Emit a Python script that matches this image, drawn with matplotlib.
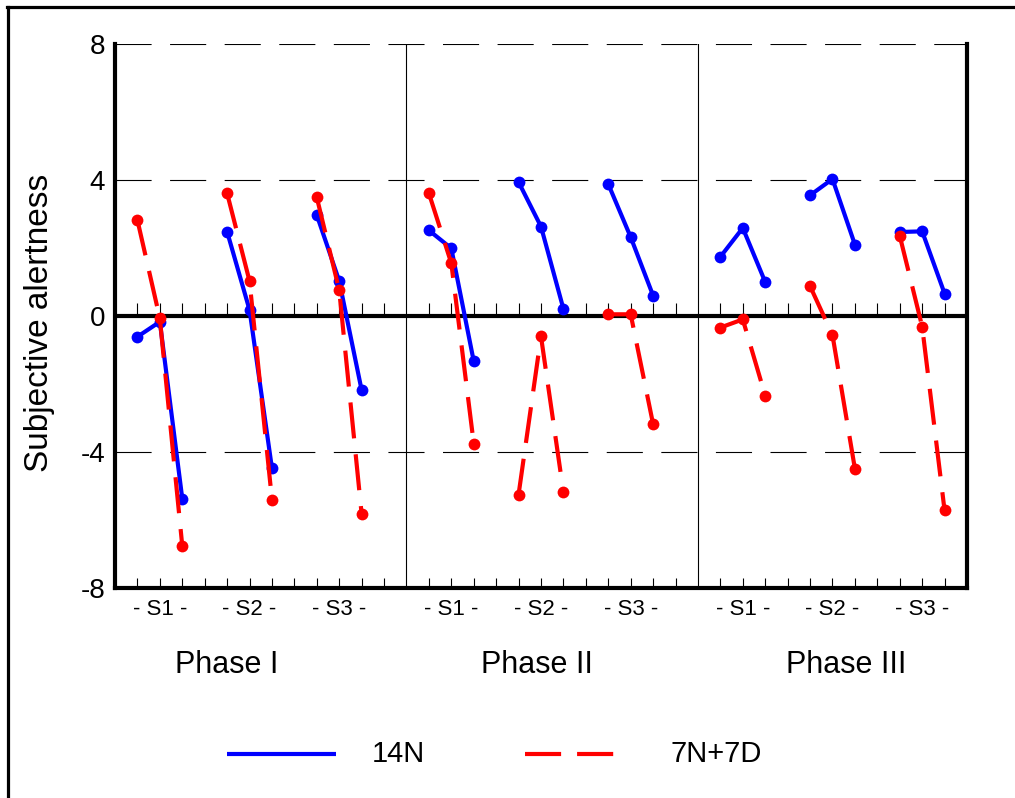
import matplotlib
matplotlib.use("Agg")
import matplotlib.pyplot as plt
from matplotlib.lines import Line2D

plt.rcParams['font.family'] = ['Liberation Sans', 'DejaVu Sans']
plt.rcParams['lines.scale_dashes'] = False

# Subjective alertness, three measurements per session, sessions S1-S3 in each phase
phases = ['Phase I', 'Phase II', 'Phase III']
sessions = ['S1', 'S2', 'S3']

n14_phase1 = [-0.61, -0.17, -5.37, 2.48, 0.18, -4.48, 2.97, 1.03, -2.18]
n14_phase2 = [2.52, 1.99, -1.33, 3.94, 2.63, 0.21, 3.88, 2.32, 0.60]
n14_phase3 = [1.74, 2.59, 1.00, 3.55, 4.03, 2.10, 2.47, 2.49, 0.66]

n7d7_phase1 = [2.82, -0.07, -6.76, 3.61, 1.03, -5.40, 3.49, 0.76, -5.82]
n7d7_phase2 = [3.61, 1.55, -3.75, -5.25, -0.60, -5.18, 0.05, 0.05, -3.18]
n7d7_phase3 = [-0.34, -0.10, -2.34, 0.88, -0.56, -4.49, 2.36, -0.31, -5.72]

n14 = [n14_phase1, n14_phase2, n14_phase3]
n7d7 = [n7d7_phase1, n7d7_phase2, n7d7_phase3]

yticks = [-8, -4, 0, 4, 8]

BLUE = '#0000FF'
RED = '#FF0000'
red_dash = (26, 11.5)

fig = plt.figure(figsize=(10.15, 7.98), dpi=100)
ax = fig.add_axes([115 / 1015, 1 - 588 / 798, 852 / 1015, 544 / 798])

ax.set_xlim(0, 38)
ax.set_ylim(-8, 8)

# dashed reference lines and the zero line
for y in [4, -4, 8]:
    ax.axhline(y, color='black', lw=0.8, dashes=(26, 13.3), zorder=1)
ax.axhline(0, color='black', lw=3, zorder=2)
for x in [13, 26]:
    ax.axvline(x, color='black', lw=0.8, zorder=1)

# small ticks standing on the zero line
tick_x = [x for x in range(1, 38) if x not in (13, 26)]
ax.vlines(tick_x, 0, 0.38, color='black', lw=0.8, zorder=2)

for p in range(3):
    offset = 13 * p
    for s in range(3):
        xs = [offset + 4 * s + 1 + k for k in range(3)]
        ax.plot(xs, n14[p][3 * s:3 * s + 3], color=BLUE, lw=3, marker='o',
                ms=8.5, mec='none', zorder=3, solid_capstyle='butt')
        ax.plot(xs, n7d7[p][3 * s:3 * s + 3], color=RED, lw=3, marker='o',
                ms=8.5, mec='none', dashes=red_dash, zorder=4,
                dash_capstyle='butt')

# axes frame
for side in ['left', 'right', 'bottom']:
    ax.spines[side].set_linewidth(3)
ax.spines['top'].set_visible(False)

ax.set_xticks(tick_x)
ax.set_xticklabels([])
ax.tick_params(axis='x', direction='in', length=7, width=0.8)
ax.set_yticks(yticks)
ax.set_yticklabels([str(v) for v in yticks], fontsize=20)
ax.tick_params(axis='y', length=0, pad=7)

xt = ax.get_xaxis_transform()
phase_label_x = [5.0, 18.8, 32.6]
for p in range(3):
    for s in range(3):
        ax.text(13 * p + 4 * s + 2, -0.04, '- ' + sessions[s] + ' -',
                transform=xt, ha='center', va='center', fontsize=16)
    ax.text(phase_label_x[p], -0.1415, phases[p], transform=xt,
            ha='center', va='center', fontsize=22)

fig.text(40 / 1015, 1 - 323 / 798, 'Subjective alertness', rotation=90,
         ha='center', va='center', fontsize=24)

# legend drawn below the plot
ly = 1 - 754 / 798
fig.add_artist(Line2D([227 / 1015, 336 / 1015], [ly, ly], color=BLUE, lw=3,
                      solid_capstyle='butt'))
fig.text(372 / 1015, ly, '14N', ha='left', va='center', fontsize=21)
fig.add_artist(Line2D([525 / 1015, 618 / 1015], [ly, ly], color=RED, lw=3,
                      dashes=red_dash, dash_capstyle='butt'))
fig.text(671 / 1015, ly, '7N+7D', ha='left', va='center', fontsize=21)

# outer frame (top and left edges)
fy = 1 - 7 / 798
fx = 8 / 1015
fig.add_artist(Line2D([7 / 1015, 1.0], [fy, fy], color='black', lw=2.3))
fig.add_artist(Line2D([fx, fx], [0, fy], color='black', lw=2.3))

fig.savefig('out.png', dpi=100)
